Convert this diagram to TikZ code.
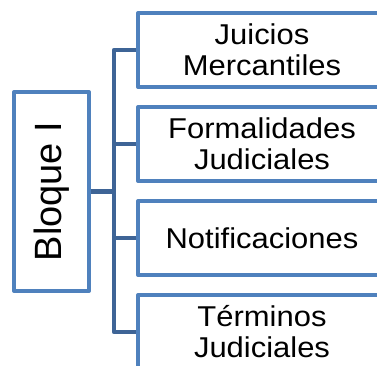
\documentclass[tikz,border=0pt]{standalone}
\usepackage{fontspec}
\setmainfont{Liberation Sans}
\newfontfamily\itemfont[FakeStretch=1.08]{Liberation Sans}
\usepackage{tikz}
\definecolor{boxblue}{RGB}{79,129,189}
\definecolor{linkblue}{RGB}{62,100,150}
\tikzset{
  bloquebox/.style={draw=boxblue, line width=3pt, line join=round, fill=white,
    minimum width=56.25pt, minimum height=149.25pt, inner sep=0pt,
    font=\fontsize{28.5}{30}\selectfont},
  temabox/.style={draw=boxblue, line width=3pt, line join=round, fill=white,
    minimum width=186pt, minimum height=55.5pt, inner sep=0pt, align=center,
    font=\itemfont\fontsize{21.5}{23.25}\selectfont},
  link/.style={draw=linkblue, line width=3.4pt, line join=round}
}
\begin{document}
\begin{tikzpicture}[x=0.75pt,y=0.75pt,yscale=-1,xscale=1]
				\useasboundingbox (0,0) rectangle (377,366);
				\clip (0,0) rectangle (377,366);

				% Spine
				\coordinate (spine) at (114,191.5);

				% Text Node
				\node [bloquebox] (bloque) at (51.5,191.5) {\rotatebox{90}{Bloque I}};
				% Text Node
				\node [temabox] (juicios) at (262,50) {Juicios\\Mercantiles};
				% Text Node
				\node [temabox] (formal) at (262,144) {Formalidades\\Judiciales};
				% Text Node
				\node [temabox] (notif) at (262,238) {Notificaciones};
				% Text Node
				\node [temabox] (terminos) at (262,332) {Términos\\Judiciales};

				%Straight Lines
				\draw [link] (bloque.east) -- (spine);
				%Straight Lines
				\draw [link] (juicios.west) -- (spine |- juicios.west) -- (spine |- terminos.west) -- (terminos.west);
				\draw [link] (formal.west) -- (spine |- formal.west);
				\draw [link] (notif.west) -- (spine |- notif.west);

\end{tikzpicture}
\end{document}
